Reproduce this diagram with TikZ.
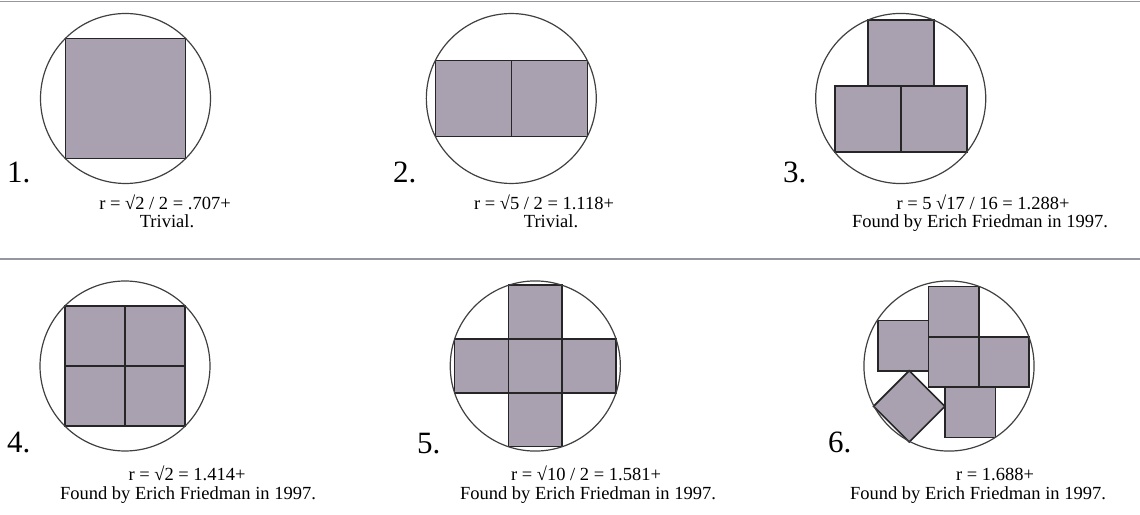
\documentclass[tikz,border=0pt]{standalone}
\usepackage{fontspec}
\setmainfont{Liberation Serif}
\usepackage{tikz}
\usetikzlibrary{positioning}
\definecolor{tilegray}{RGB}{170,161,176}
\definecolor{rulegray}{RGB}{150,150,158}

\begin{document}
\begin{tikzpicture}[x=1pt,y=1pt,
  tile/.style={fill=tilegray, draw=black!85, line width=1.6pt},
  ring/.style={draw=black!75, line width=1.2pt},
  num/.style={anchor=base west, inner sep=0pt, font=\fontsize{31}{31}\selectfont},
  capt/.style={anchor=base, inner sep=0pt, font=\fontsize{18.5}{21}\selectfont}]
  \useasboundingbox (0,0) rectangle (1140,514);
  % separator lines
  \draw[rulegray, line width=1.5pt] (0,512.5) -- (1140,512.5);
  \draw[rulegray, line width=1.5pt] (0,255) -- (1140,255);

  % 1 square
  \begin{scope}[shift={(125.5,415.5)}, x=120.2pt, y=120.2pt]
    \filldraw[tile] (-0.5,-0.5) rectangle (0.5,0.5);
    \draw[ring] (0,0) circle (0.7071);
  \end{scope}
  % 2 squares
  \begin{scope}[shift={(511.3,415.5)}, x=76pt, y=76pt]
    \foreach \x in {-1,0} {
      \filldraw[tile] (\x,-0.5) rectangle ++(1,1);
    }
    \draw[ring] (0,0) circle (1.118);
  \end{scope}
  % 3 squares
  \begin{scope}[shift={(900.7,415.5)}, x=66pt, y=66pt]
    \foreach \x/\y in {-1/-0.8125, 0/-0.8125, -0.5/0.1875} {
      \filldraw[tile] (\x,\y) rectangle ++(1,1);
    }
    \draw[ring] (0,0) circle (1.2885);
  \end{scope}
  % 4 squares
  \begin{scope}[shift={(125,148)}, x=60.1pt, y=60.1pt]
    \foreach \x in {-1,0} \foreach \y in {-1,0} {
      \filldraw[tile] (\x,\y) rectangle ++(1,1);
    }
    \draw[ring] (0,0) circle (1.4142);
  \end{scope}
  % 5 squares
  \begin{scope}[shift={(535.3,148)}, x=53.8pt, y=53.8pt]
    \foreach \x/\y in {-0.5/-1.5, -1.5/-0.5, -0.5/-0.5, 0.5/-0.5, -0.5/0.5} {
      \filldraw[tile] (\x,\y) rectangle ++(1,1);
    }
    \draw[ring] (0,0) circle (1.5811);
  \end{scope}
  % 6 squares
  \begin{scope}[shift={(949,148)}, x=50.4pt, y=50.4pt]
    \foreach \x/\y in {-0.41/0.58, -0.41/-0.42, 0.59/-0.42, -1.41/-0.10, -0.08/-1.42} {
      \filldraw[tile] (\x,\y) rectangle ++(1,1);
    }
    \filldraw[tile, rotate around={45:(-0.79,-0.80)}] (-1.29,-1.30) rectangle ++(1,1);
    \draw[ring] (0,0) circle (1.688);
  \end{scope}

  % numbers
  \node[num] (n1) at (7,331) {1.};
  \node[num] (n2) at (393,331) {2.};
  \node[num] (n3) at (783,331) {3.};
  \node[num] (n4) at (7,61) {4.};
  \node[num] (n5) at (417,60) {5.};
  \node[num] (n6) at (828,62) {6.};

  % captions
  \node[capt] (r1) at (165,304) {r = √2 / 2 = .707+};
  \node[capt] (f1) at (167,286) {Trivial.};
  \node[capt] (r2) at (544,304) {r = √5 / 2 = 1.118+};
  \node[capt] (f2) at (551,286) {Trivial.};
  \node[capt] (r3) at (983,304) {r = 5 √17 / 16 = 1.288+};
  \node[capt] (f3) at (980,286) {Found by Erich Friedman in 1997.};
  \node[capt] (r4) at (187,34) {r = √2 = 1.414+};
  \node[capt] (f4) at (188,15) {Found by Erich Friedman in 1997.};
  \node[capt] (r5) at (586,34) {r = √10 / 2 = 1.581+};
  \node[capt] (f5) at (588,15) {Found by Erich Friedman in 1997.};
  \node[capt] (r6) at (995,34) {r = 1.688+};
  \node[capt] (f6) at (978,15) {Found by Erich Friedman in 1997.};
\end{tikzpicture}
\end{document}
